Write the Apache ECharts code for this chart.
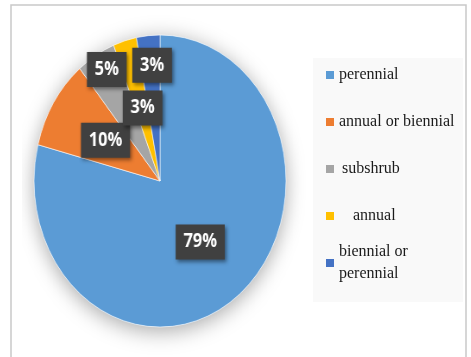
<!DOCTYPE html>
<html>
<head>
<meta charset="utf-8">
<script src="https://cdn.jsdelivr.net/npm/echarts@6/dist/echarts.min.js"></script>
<style>
  html, body { margin: 0; padding: 0; background: #ffffff; }
  #wrap { position: relative; width: 471px; height: 357px; overflow: hidden; }
  #frame, #pie { position: absolute; left: 0; top: 0; width: 471px; height: 357px; }
  /* the pie is drawn slightly narrower than it is tall */
  #pie { transform-origin: 160px 0; transform: scaleX(0.863); }
</style>
</head>
<body>
<div id="wrap">
  <div id="frame"></div>
  <div id="pie"></div>
</div>
<script>
// Growth-form shares (percent of species)
const categories = ['perennial', 'annual or biennial', 'subshrub', 'annual', 'biennial or perennial'];
const shares = [79, 10, 5, 3, 3];
const sliceColors = ['#5B9BD5', '#ED7D31', '#A5A5A5', '#FFC000', '#4472C4'];

// Nudges for the value boxes so the small slices' labels don't collide
const labelNudge = [[0, 1], [1, 0], [-23, -46], [1, 0], [-2, -40]];

const pieCenter = [160, 181];
const pieRadius = 146;

function sliceData() {
  return categories.map(function (name, i) {
    return {
      name: name,
      value: shares[i],
      itemStyle: { color: sliceColors[i] },
      label: { offset: labelNudge[i] }
    };
  });
}

// --- frame + legend layer ---
const frameChart = echarts.init(document.getElementById('frame'), null, { renderer: 'canvas' });

const legendText = {
  fontFamily: 'Liberation Serif',
  fontSize: 16,
  color: '#1a1a1a',
  lineHeight: 22
};

frameChart.setOption({
  backgroundColor: '#ffffff',
  animation: false,
  graphic: [
    {
      type: 'rect',
      z: -10,
      shape: { x: 11, y: 5, width: 455, height: 370 },
      style: { fill: '#ffffff', stroke: '#c9c9c9', lineWidth: 1.5 }
    },
    {
      type: 'rect',
      z: -9,
      shape: { x: 313, y: 58, width: 150, height: 244 },
      style: { fill: '#f9f9f9' }
    }
  ],
  legend: [
    {
      orient: 'vertical',
      left: 326,
      top: 64,
      padding: 0,
      itemGap: 25,
      itemWidth: 8,
      itemHeight: 8,
      icon: 'rect',
      selectedMode: false,
      textStyle: legendText,
      data: [
        { name: categories[0] },
        { name: categories[1] },
        { name: categories[2], textStyle: { padding: [0, 0, 0, 3] } },
        { name: categories[3], textStyle: { padding: [0, 0, 0, 14] } }
      ]
    },
    {
      orient: 'vertical',
      left: 326,
      top: 230,
      padding: 0,
      itemWidth: 8,
      itemHeight: 8,
      icon: 'rect',
      selectedMode: false,
      textStyle: legendText,
      formatter: function () { return 'biennial or\nperennial'; },
      data: [
        { name: categories[4], textStyle: { padding: [22, 0, 0, 0] } }
      ]
    }
  ],
  series: [
    {
      // carries the legend entries; the visible pie lives on the layer above
      type: 'pie',
      silent: true,
      center: pieCenter,
      radius: 0,
      label: { show: false },
      labelLine: { show: false },
      data: sliceData()
    }
  ]
});

// --- pie layer ---
const pieChart = echarts.init(document.getElementById('pie'), null, { renderer: 'canvas' });

pieChart.setOption({
  backgroundColor: 'transparent',
  animation: false,
  series: [
    {
      // soft halo under the pie
      type: 'pie',
      silent: true,
      center: pieCenter,
      radius: pieRadius,
      z: 1,
      label: { show: false },
      labelLine: { show: false },
      itemStyle: {
        color: '#ffffff',
        shadowBlur: 22,
        shadowOffsetY: 4,
        shadowColor: 'rgba(0,0,0,0.35)'
      },
      data: [{ value: 1, name: '' }]
    },
    {
      type: 'pie',
      center: pieCenter,
      radius: pieRadius,
      startAngle: 90,
      clockwise: true,
      avoidLabelOverlap: false,
      z: 2,
      itemStyle: { borderColor: '#ffffff', borderWidth: 0.6 },
      label: {
        show: true,
        position: 'inside',
        formatter: '{c}%',
        color: '#ffffff',
        fontFamily: 'Open Sans',
        fontWeight: 'bold',
        fontSize: 19,
        lineHeight: 21,
        backgroundColor: '#404040',
        padding: [7, 9],
        shadowColor: 'rgba(0,0,0,0.45)',
        shadowBlur: 4,
        shadowOffsetX: 2,
        shadowOffsetY: 2
      },
      labelLayout: { hideOverlap: false },
      labelLine: { show: false },
      emphasis: { disabled: true },
      data: sliceData()
    }
  ]
});
</script>
</body>
</html>
